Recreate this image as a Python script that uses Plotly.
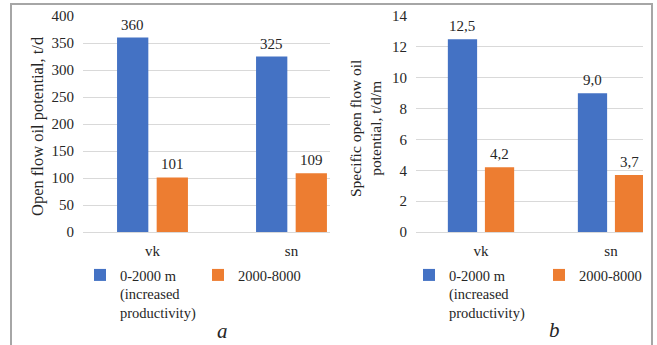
import plotly.graph_objects as go

# Categories and series
categories = ["vk", "sn"]
series_lines = [["0-2000 m", "(increased", "productivity)"], ["2000-8000"]]

# Panel a: open flow oil potential, t/d
a_shallow = [360, 325]
a_deep = [101, 109]

# Panel b: specific open flow oil potential, t/d/m
b_shallow = [12.5, 9.0]
b_deep = [4.2, 3.7]

# Axis ticks
a_ticks = [0, 50, 100, 150, 200, 250, 300, 350, 400]
b_ticks = [0, 2, 4, 6, 8, 10, 12, 14]

W, H = 657, 345
BLUE = "#4472C4"
ORANGE = "#ED7D31"
GRID = "#d9d9d9"
TXT = "#262626"
FONT = "Liberation Serif, Times New Roman, serif"


def px_x(p):
    return p / W


def px_y(p):
    return (H - p) / H


def fmt(v, dec):
    return f"{v:.{dec}f}".replace(".", ",")


def serif_name(lines):
    # legend entries styled line by line so the serif face is kept
    return "<br>".join(
        f"<span style='font-family:Liberation Serif, serif'>{ln}</span>" for ln in lines
    )


series_names = [serif_name(l) for l in series_lines]

fig = go.Figure()

panels = [
    ("x", "y", "legend", a_shallow, a_deep, 0),
    ("x2", "y2", "legend2", b_shallow, b_deep, 1),
]
for xa, ya, lg, shallow, deep, dec in panels:
    for vals, name, color, off in [(shallow, series_names[0], BLUE, -0.255),
                                   (deep, series_names[1], ORANGE, 0.03)]:
        fig.add_trace(go.Bar(
            x=categories, y=vals, name=name, marker_color=color,
            marker_line_width=0, width=0.225, offset=off,
            xaxis=xa, yaxis=ya, legend=lg, hoverinfo="skip",
        ))
        for idx, v in enumerate(vals):
            fig.add_annotation(
                x=idx + off + 0.1125, y=v, xref=xa, yref=ya,
                text=fmt(v, dec), showarrow=False,
                xanchor="center", yanchor="bottom",
                yshift=3, font=dict(family=FONT, size=15, color=TXT),
            )

axis_common = dict(type="category", showgrid=False, zeroline=False,
                   showline=False, ticks="", ticklabelstandoff=8, automargin=False,
                   tickfont=dict(family=FONT, size=15, color=TXT))
yaxis_common = dict(showgrid=True, gridcolor=GRID, gridwidth=1,
                    zeroline=True, zerolinecolor=GRID, zerolinewidth=1,
                    showline=False, ticks="", ticklabelstandoff=8, automargin=False,
                    tickfont=dict(family=FONT, size=15, color=TXT))

y_dom = [px_y(232), px_y(16)]
legend_font = dict(family=FONT, size=14.5, color=TXT)

fig.update_layout(
    width=W, height=H, autosize=False,
    margin=dict(l=0, r=0, t=0, b=0, pad=0, autoexpand=False),
    font=dict(family=FONT, color=TXT, size=15),
    paper_bgcolor="white", plot_bgcolor="white",
    barmode="group",
    showlegend=True,
    xaxis=dict(domain=[px_x(83), px_x(330)], range=[-0.5, 1.277], anchor="y", **axis_common),
    xaxis2=dict(domain=[px_x(416), px_x(643)], range=[-0.5, 1.246], anchor="y2", **axis_common),
    yaxis=dict(domain=y_dom, range=[0, 400], tickvals=a_ticks, anchor="x", **yaxis_common),
    yaxis2=dict(domain=y_dom, range=[0, 14], tickvals=b_ticks, anchor="x2", **yaxis_common),
    legend=dict(orientation="h", x=px_x(80), y=px_y(259), xanchor="left", yanchor="top",
                font=legend_font, entrywidth=73,
                valign="top", bgcolor="rgba(0,0,0,0)", itemclick=False),
    legend2=dict(orientation="h", x=px_x(409), y=px_y(259), xanchor="left", yanchor="top",
                 font=legend_font, entrywidth=85,
                 valign="top", bgcolor="rgba(0,0,0,0)", itemclick=False),
)

# Axis titles
fig.add_annotation(x=px_x(37), y=px_y(126), xref="paper", yref="paper",
                   xanchor="center", yanchor="middle",
                   text="Open flow oil potential, t/d", textangle=-90, showarrow=False,
                   font=dict(family=FONT, size=16.5, color=TXT))
fig.add_annotation(x=px_x(366), y=px_y(129), xref="paper", yref="paper",
                   xanchor="center", yanchor="middle",
                   text="Specific open flow oil<br>potential, t/d/m", textangle=-90,
                   showarrow=False, font=dict(family=FONT, size=15.5, color=TXT))

# Panel letters
fig.add_annotation(x=px_x(222), y=px_y(331), xref="paper", yref="paper",
                   xanchor="center", yanchor="middle",
                   text="<i>a</i>", showarrow=False,
                   font=dict(family=FONT, size=21, color=TXT))
fig.add_annotation(x=px_x(554), y=px_y(330), xref="paper", yref="paper",
                   xanchor="center", yanchor="middle",
                   text="<i>b</i>", showarrow=False,
                   font=dict(family=FONT, size=21, color=TXT))

# Outer frame
fig.add_shape(type="rect", xref="paper", yref="paper",
              x0=px_x(11), x1=px_x(652), y0=-0.1, y1=px_y(4),
              line=dict(color="#a6a6a6", width=2), fillcolor="rgba(0,0,0,0)")

fig.write_html("out.html")
